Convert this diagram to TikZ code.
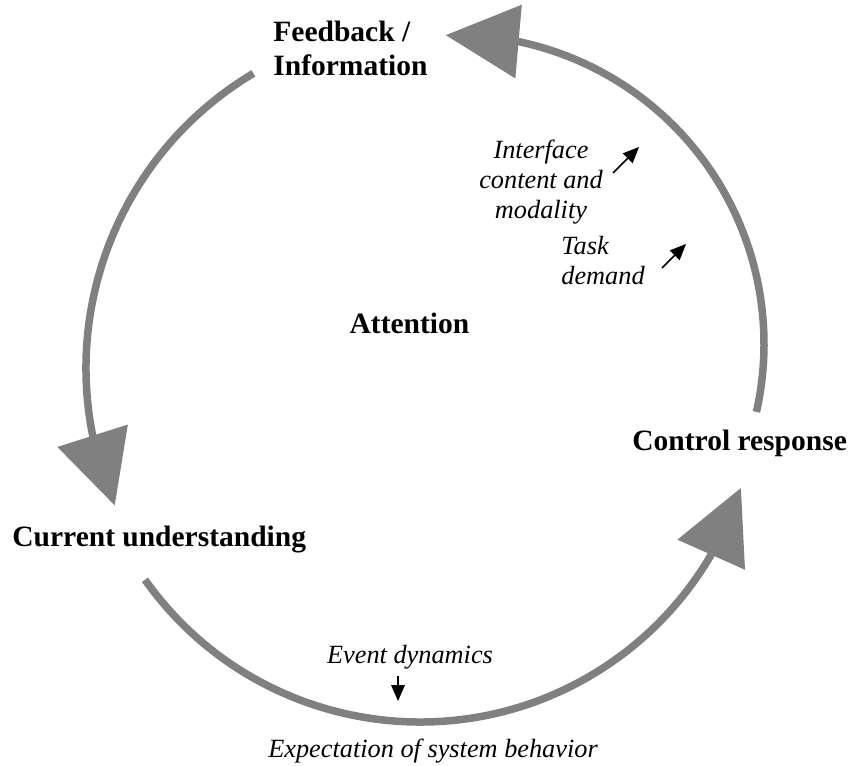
\documentclass[tikz,border=0pt]{standalone}
\usepackage{fontspec}
\setmainfont{Liberation Serif}
\usepackage{tikz}
\usetikzlibrary{arrows.meta,bending}
\definecolor{cyclegray}{RGB}{128,128,128}

\begin{document}
\begin{tikzpicture}[x=0.5pt,y=-0.5pt,
    cycle/.style={cyclegray,line width=3.75pt,
        -{Triangle[length=36.5pt,width=37pt,line width=0pt,flex]}},
    factor/.style={black,line width=0.8pt,
        -{Triangle[length=8pt,width=7pt,line width=0pt]}},
    stage/.style={inner sep=0pt,font=\fontsize{14.75}{17}\selectfont\bfseries},
    cue/.style={inner sep=0pt,font=\fontsize{13.15}{15}\selectfont\itshape}]
    \useasboundingbox (0,0) rectangle (854,765);
    % Etapas do ciclo
    \node[stage,align=left,anchor=north west] (feedback) at (273,21)
        {Feedback /\\Information};
    \node[stage,anchor=base] (attention) at (409.5,333) {Attention};
    \node[stage,anchor=base west] (control) at (632,450) {Control response};
    \node[stage,anchor=base west] (understanding) at (12,546)
        {Current understanding};
    % Fatores
    \node[cue,align=center,anchor=north] (interface) at (541,140)
        {Interface\\content and\\modality};
    \node[cue,align=left,anchor=north west] (task) at (561,236)
        {Task\\demand};
    \node[cue,anchor=base] (event) at (410,663) {Event dynamics};
    \node[cue,anchor=base] (expectation) at (433,757)
        {Expectation of system behavior};
    % Setas do ciclo
    \draw[cycle] ([shift={(12.7:309)}]455,344)
        arc[start angle=12.7,end angle=-91.7,radius=309];
    \draw[cycle] ([shift={(-120.8:343)}]429,368)
        arc[start angle=-120.8,end angle=-203.6,radius=343];
    \draw[cycle] ([shift={(144.7:337)}]420,385)
        arc[start angle=144.7,end angle=17.8,radius=337];
    % Setas dos fatores
    \coordinate (interfaceTail) at (613,173);
    \coordinate (interfaceHead) at (639,147);
    \coordinate (taskTail) at (662,268);
    \coordinate (taskHead) at (686,244);
    \coordinate (eventTail) at (398,676);
    \coordinate (eventHead) at (398,701);
    \draw[factor] (interfaceTail) -- (interfaceHead);
    \draw[factor] (taskTail) -- (taskHead);
    \draw[factor] (eventTail) -- (eventHead);
\end{tikzpicture}
\end{document}
